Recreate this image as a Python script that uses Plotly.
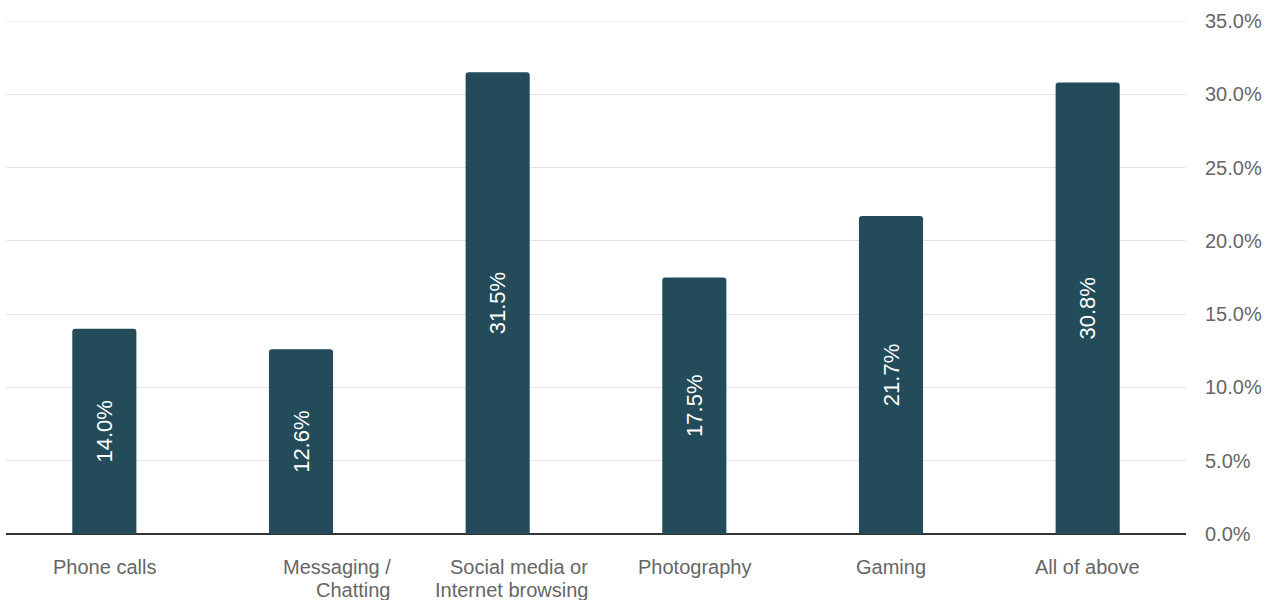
import plotly.graph_objects as go

# Share of respondents by main smartphone use
categories = ["Phone calls", "Messaging /\nChatting", "Social media or\nInternet browsing",
              "Photography", "Gaming", "All of above"]
shares = [14.0, 12.6, 31.5, 17.5, 21.7, 30.8]
y_ticks = [0, 5, 10, 15, 20, 25, 30, 35]
y_tick_labels = [f"{v:.1f}%" for v in y_ticks]

FONT = "Liberation Sans, Arial, sans-serif"
BAR_COLOR = "#234B5A"
TEXT_GRAY = "#666666"
GRID = "#E3E3E3"

fig = go.Figure(
    go.Bar(
        x=categories,
        y=shares,
        marker=dict(color=BAR_COLOR, line=dict(width=0), cornerradius=3),
        texttemplate="%{y:.1f}%",
        textposition="inside",
        insidetextanchor="middle",
        textangle=-90,
        textfont=dict(family=FONT, size=22, color="white"),
        hoverinfo="skip",
    )
)

# Category labels drawn below the axis, one annotation per line
annotations = []
for cat in categories:
    lines = cat.split("\n")
    multi = len(lines) > 1
    for i, line in enumerate(lines):
        annotations.append(dict(
            x=cat, xref="x", y=0, yref="paper",
            text=line, showarrow=False,
            xanchor="right" if multi else "center",
            xshift=92 if multi else 0,
            yanchor="middle", yshift=-(33 + 23 * i),
            font=dict(family=FONT, size=20, color=TEXT_GRAY),
        ))

fig.update_layout(
    width=1277, height=600,
    margin=dict(l=6, r=91, t=21, b=66),
    paper_bgcolor="white", plot_bgcolor="white",
    bargap=0.674,
    showlegend=False,
    annotations=annotations,
    uniformtext=dict(minsize=22, mode="show"),
    xaxis=dict(showticklabels=False, showgrid=False, zeroline=False,
               showline=False, fixedrange=True),
    yaxis=dict(
        side="right", range=[0, 35], tickmode="array",
        tickvals=y_ticks, ticktext=y_tick_labels,
        tickfont=dict(family=FONT, size=20, color=TEXT_GRAY),
        ticklabelstandoff=18,
        showgrid=True, gridcolor=GRID, gridwidth=1,
        zeroline=True, zerolinecolor="#333333", zerolinewidth=1.5,
        showline=False, fixedrange=True,
    ),
)

# Top gridline sits on the plot edge, so draw it explicitly
fig.add_hline(y=y_ticks[-1], line=dict(color=GRID, width=1), layer="below")

fig.write_html("out.html")
